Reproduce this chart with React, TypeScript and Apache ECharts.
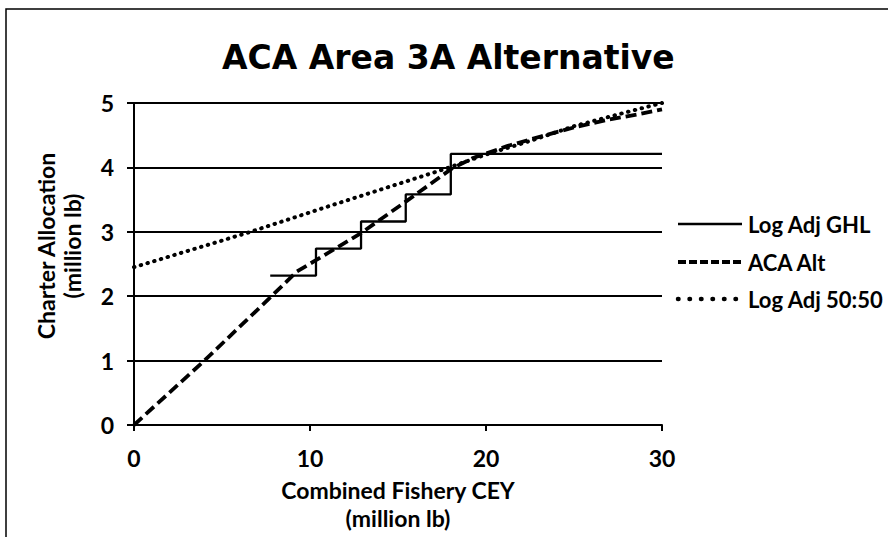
import React, { useEffect, useRef } from "react";
import * as echarts from "echarts";

const TITLE = "ACA Area 3A Alternative";
const X_NAME = "Combined Fishery CEY\n(million lb)";
const Y_NAME = "Charter Allocation\n(million lb)";

// Log Adj GHL (step function)
const ghlX = [7.74, 10.34, 12.9, 15.44, 18.0, 30];
const ghlY = [2.32, 2.74, 3.16, 3.58, 4.21, 4.21];

// ACA Alt (dashed)
const acaX = [0, 4, 7.7, 9.24, 10.34, 12.9, 15.5, 18.05, 19.3, 21.2, 23.1, 25, 26.9, 28.75, 30];
const acaY = [0, 1.0, 1.97, 2.38, 2.56, 2.98, 3.48, 3.98, 4.15, 4.33, 4.48, 4.62, 4.74, 4.83, 4.9];

// Log Adj 50:50 (dotted)
const fiftyX = [0, 6.4, 11.1, 17.6, 20, 22.5, 25, 27.6, 30];
const fiftyY = [2.45, 2.98, 3.4, 3.97, 4.2, 4.41, 4.64, 4.83, 5.0];

const LEGEND = ["Log Adj GHL", "ACA Alt", "Log Adj 50:50"];

const FONT = "Lato";

function pairs(xs: number[], ys: number[]) {
  return xs.map((x, i) => [x, ys[i]]);
}

export default function App() {
  const ref = useRef<HTMLDivElement>(null);
  useEffect(() => {
    document.body.style.margin = "0";
    const chart = echarts.init(ref.current!, null, { renderer: "svg" });
    const lineStyles: any[] = [
      { color: "#000", width: 2.3, type: "solid" },
      { color: "#000", width: 3.8, type: [11, 5] },
      { color: "#000", width: 4, type: [0.5, 6.5], cap: "round" },
    ];
    const legendStyles: any[] = [
      { stroke: "#000", lineWidth: 2.3 },
      { stroke: "#000", lineWidth: 3.8, lineDash: [8, 3] },
      { stroke: "#000", lineWidth: 4.5, lineDash: [0.5, 11], lineCap: "round" },
    ];
    const legendYs = [224, 262, 299];
    const legendGraphics: any[] = [];
    LEGEND.forEach((name, i) => {
      legendGraphics.push({
        type: "line",
        shape: { x1: 678, y1: legendYs[i], x2: 742, y2: legendYs[i] },
        style: legendStyles[i],
      });
      legendGraphics.push({
        type: "text",
        x: 748,
        y: legendYs[i],
        style: {
          text: name,
          fill: "#000",
          font: `bold 22px ${FONT}`,
          verticalAlign: "middle",
          textAlign: "left",
        },
      });
    });
    chart.setOption({
      animation: false,
      backgroundColor: "#fff",
      textStyle: { fontFamily: FONT },
      title: {
        text: TITLE,
        left: 222,
        top: 41,
        padding: 0,
        textStyle: { fontFamily: "DejaVu Sans", fontWeight: "bold", fontSize: 33, color: "#000" },
      },
      grid: { left: 134, right: 226, top: 103, bottom: 109 },
      xAxis: {
        type: "value",
        min: 0,
        max: 30,
        interval: 10,
        name: X_NAME,
        nameLocation: "middle",
        nameGap: 51,
        nameTextStyle: { fontFamily: FONT, fontWeight: "bold", fontSize: 23, color: "#000", lineHeight: 28 },
        axisLine: { show: true, onZero: false, lineStyle: { color: "#000", width: 2 } },
        axisTick: { show: true, inside: false, length: 6, lineStyle: { color: "#000", width: 2 } },
        axisLabel: { fontFamily: FONT, fontWeight: "bold", fontSize: 23, color: "#000", margin: 21 },
        splitLine: { show: false },
      },
      yAxis: {
        type: "value",
        min: 0,
        max: 5,
        interval: 1,
        axisLine: { show: true, lineStyle: { color: "#000", width: 2 } },
        axisTick: { show: true, inside: false, length: 7, lineStyle: { color: "#000", width: 2 } },
        axisLabel: { fontFamily: FONT, fontWeight: "bold", fontSize: 23, color: "#000", margin: 20 },
        splitLine: { show: true, lineStyle: { color: "#000", width: 2 } },
      },
      series: [
        {
          name: LEGEND[0],
          type: "line",
          step: "end",
          data: pairs(ghlX, ghlY),
          symbol: "none",
          lineStyle: lineStyles[0],
          z: 3,
        },
        {
          name: LEGEND[1],
          type: "line",
          data: pairs(acaX, acaY),
          symbol: "none",
          lineStyle: lineStyles[1],
          z: 4,
        },
        {
          name: LEGEND[2],
          type: "line",
          data: pairs(fiftyX, fiftyY),
          symbol: "none",
          lineStyle: lineStyles[2],
          z: 4,
          clip: false,
        },
      ],
      graphic: [
        {
          type: "rect",
          shape: { x: 6, y: 9, width: 900, height: 540 },
          style: { fill: "none", stroke: "#000", lineWidth: 1.5 },
          z: 10,
        },
        {
          type: "text",
          x: 59,
          y: 246,
          rotation: Math.PI / 2,
          style: {
            text: Y_NAME,
            fill: "#000",
            font: `bold 23px ${FONT}`,
            lineHeight: 26,
            textAlign: "center",
            verticalAlign: "middle",
          },
        },
        ...legendGraphics,
      ],
    });
    return () => chart.dispose();
  }, []);
  return <div ref={ref} style={{ width: 888, height: 537 }} />;
}
